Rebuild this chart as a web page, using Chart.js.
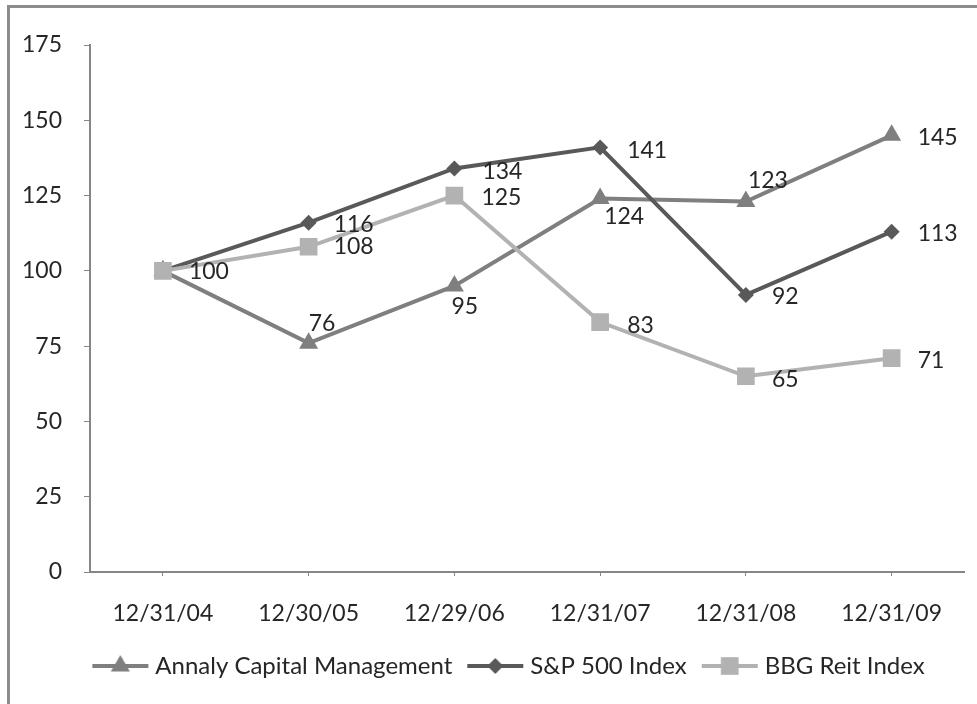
<!DOCTYPE html>
<html>
<head>
<meta charset="utf-8">
<script src="https://cdn.jsdelivr.net/npm/chart.js@4/dist/chart.umd.min.js"></script>
<style>
  html, body { margin: 0; padding: 0; background: #fff; overflow: hidden; }
  #wrap { position: relative; width: 977px; height: 704px; }
  #frame { position: absolute; left: 7px; top: 5px; width: 990px; height: 720px; border: 3px solid #8c8c8c; }
  #wrap canvas { position: absolute; left: 0; top: 0; }
</style>
</head>
<body>
<div id="wrap">
  <div id="frame"></div>
  <canvas id="lineChart"></canvas>
</div>
<script>
const dates = ['12/31/04', '12/30/05', '12/29/06', '12/31/07', '12/31/08', '12/31/09'];
const annaly = [100, 76, 95, 124, 123, 145];
const sp500 = [100, 116, 134, 141, 92, 113];
const bbgReit = [100, 108, 125, 83, 65, 71];
const seriesNames = ['Annaly Capital Management', 'S&P 500 Index', 'BBG Reit Index'];
const yTicks = [0, 25, 50, 75, 100, 125, 150, 175];

// label placement per point (dx, dy from the marker); null = no label
const labelPos = [
  [null, [0, -20], [-3, 21], [4, 18], [2, -21], [26, 2]],
  [null, [25, 2], [28, 3], [27, 3], [26, 2], [26, 2]],
  [[26, 1], [25, 0], [27, 2], [27, 4], [26, 3], [26, 2]]
];

const FONT = 'Lato, "Open Sans", sans-serif';
const textColor = '#262626';
const axisColor = '#868686';

function legendIcon(color, style, radius) {
  const c = document.createElement('canvas');
  c.width = 58; c.height = 22;
  const ctx = c.getContext('2d');
  ctx.strokeStyle = color;
  ctx.lineWidth = 4;
  ctx.beginPath();
  ctx.moveTo(1, 11);
  ctx.lineTo(57, 11);
  ctx.stroke();
  ctx.fillStyle = color;
  Chart.helpers.drawPoint(ctx, { pointStyle: style, radius: radius, borderWidth: 0, rotation: 0 }, 29, 11);
  return c;
}

const styles = [
  { color: '#7f7f7f', point: 'triangle', radius: 11 },
  { color: '#595959', point: 'rectRot', radius: 8 },
  { color: '#b2b2b2', point: 'rect', radius: 12.5 }
];
const values = [annaly, sp500, bbgReit];

const datasets = values.map((v, i) => ({
  label: seriesNames[i],
  data: v,
  borderColor: styles[i].color,
  backgroundColor: styles[i].color,
  pointBackgroundColor: styles[i].color,
  pointStyle: styles[i].point,
  pointRadius: styles[i].radius,
  pointBorderWidth: 0,
  borderWidth: 4,
  tension: 0,
  order: 3 - i
}));

const valueLabels = {
  id: 'valueLabels',
  afterLayout(chart) {
    // legend sits a bit right of the canvas centre
    chart.legend.left += 24;
    chart.legend.right += 24;
  },
  afterDatasetsDraw(chart) {
    const ctx = chart.ctx;
    ctx.save();
    ctx.font = '23px ' + FONT;
    ctx.fillStyle = textColor;
    ctx.textAlign = 'left';
    ctx.textBaseline = 'middle';
    chart.data.datasets.forEach((ds, i) => {
      const meta = chart.getDatasetMeta(i);
      meta.data.forEach((pt, j) => {
        const pos = labelPos[i][j];
        if (!pos) return;
        ctx.fillText(String(ds.data[j]), pt.x + pos[0], pt.y + pos[1]);
      });
    });
    ctx.restore();
  }
};

new Chart(document.getElementById('lineChart'), {
  type: 'line',
  data: { labels: dates, datasets: datasets },
  plugins: [valueLabels],
  options: {
    responsive: true,
    maintainAspectRatio: false,
    animation: false,
    devicePixelRatio: 1,
    layout: { padding: { left: 2, right: 5, top: 45, bottom: 16 } },
    plugins: {
      tooltip: { enabled: false },
      legend: {
        position: 'bottom',
        labels: {
          usePointStyle: true,
          pointStyleWidth: 46,
          padding: 20,
          color: textColor,
          font: { family: FONT, size: 24 },
          generateLabels: chart => chart.data.datasets.map((ds, i) => ({
            text: ds.label,
            pointStyle: legendIcon(styles[i].color, styles[i].point, styles[i].radius),
            fillStyle: styles[i].color,
            strokeStyle: styles[i].color,
            lineWidth: 0,
            fontColor: textColor,
            datasetIndex: i
          }))
        }
      }
    },
    scales: {
      x: {
        offset: true,
        grid: { drawOnChartArea: false, tickLength: 4, color: axisColor, offset: false },
        border: { color: axisColor, width: 2 },
        ticks: { color: textColor, font: { family: FONT, size: 23 }, padding: 24, maxRotation: 0 },
        afterFit: scale => { scale.height = 62; }
      },
      y: {
        min: 0,
        max: 175,
        afterBuildTicks: scale => { scale.ticks = yTicks.map(v => ({ value: v })); },
        grid: { drawOnChartArea: false, tickLength: 6, color: axisColor },
        border: { color: axisColor, width: 2 },
        ticks: { color: textColor, font: { family: FONT, size: 23 }, padding: 22 },
        afterFit: scale => { scale.width = 88; }
      }
    }
  }
});
</script>
</body>
</html>
